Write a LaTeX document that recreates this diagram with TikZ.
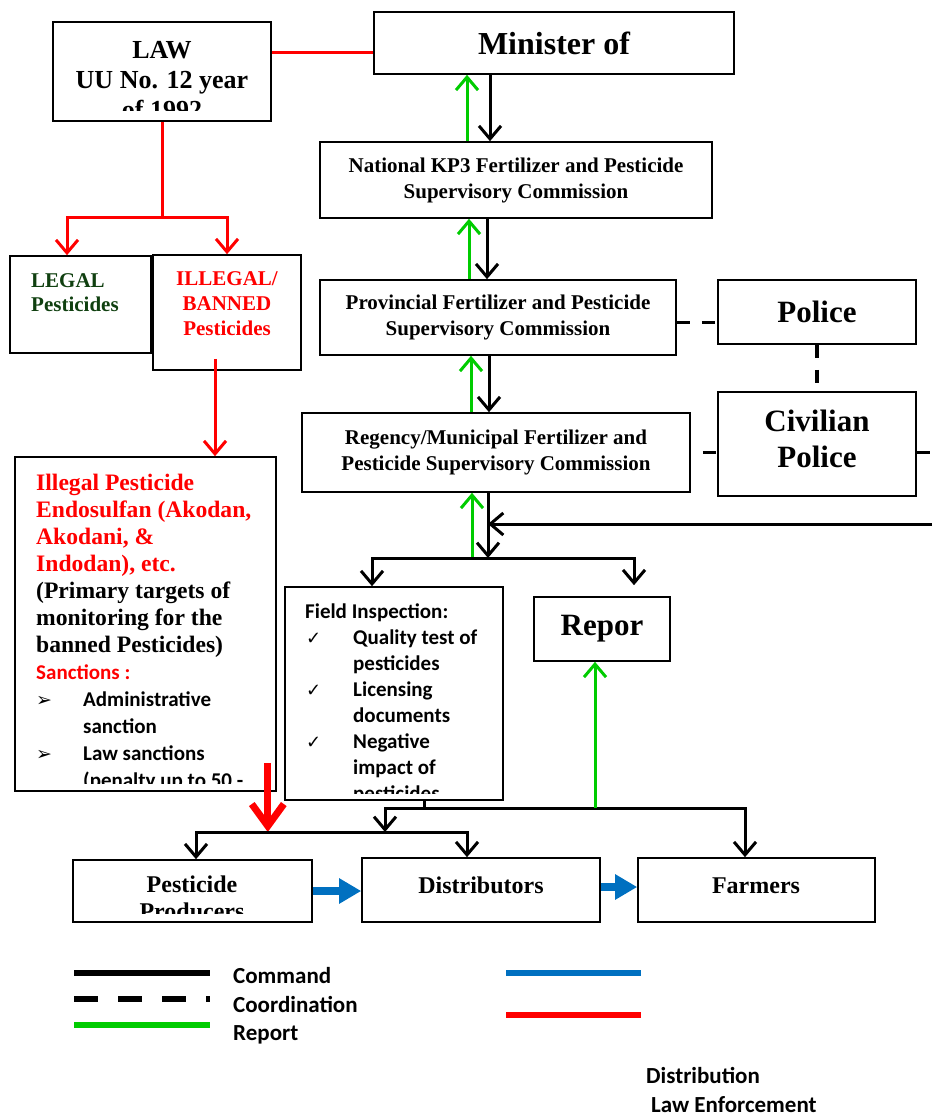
\documentclass[tikz,border=0pt]{standalone}
\usepackage{fontspec}
\setmainfont{Liberation Serif}
\newfontfamily\calib{Carlito}
\newfontfamily\symfont{DejaVu Sans}
\usetikzlibrary{arrows.meta}
\definecolor{lawred}{RGB}{255,0,0}
\definecolor{repgreen}{RGB}{0,204,0}
\definecolor{distblue}{RGB}{0,112,192}
\definecolor{legalgreen}{RGB}{16,64,16}

\begin{document}
\begin{tikzpicture}[x=1pt, y=-1pt,
    box/.style={draw, line width=1.6pt, inner sep=0pt, align=center, font=\bfseries},
    cmd/.style={line width=3pt, -{Straight Barb[length=13pt,width=22pt]}},
    rep/.style={draw=repgreen, line width=3pt, -{Straight Barb[length=13pt,width=22pt]}},
    coordline/.style={line width=3.5pt, dash pattern=on 13pt off 12pt},
    lawline/.style={draw=lawred, line width=3pt},
    lawarrow/.style={lawline, -{Straight Barb[length=13pt,width=22pt]}},
    bigred/.style={draw=lawred, line width=7pt, -{Straight Barb[length=22pt,width=32pt]}},
    distarrow/.style={draw=distblue, line width=8pt, -{Triangle[length=22pt,width=24pt]}},
    keyline/.style={line width=6pt},
    keytext/.style={anchor=base west, inner sep=0pt, font=\calib\bfseries\fontsize{23}{26}\selectfont}
]
\useasboundingbox (0,0) rectangle (932,1118);

% law and ministry
\node[box, minimum width=218pt, minimum height=99pt] (law) at (162,71.5) {};
\begin{scope}
  \clip (55,24) rectangle (269,111);
  \node[anchor=north, inner sep=0pt, align=center, font=\bfseries\fontsize{26}{30}\selectfont] (lawtext) at (162,41) {LAW\\UU No. 12 year\\of 1992};
\end{scope}
\node[box, minimum width=360pt, minimum height=62pt, font=\bfseries\fontsize{32}{36}\selectfont] (minister) at (554,43) {Minister of};

% commissions
\node[box, minimum width=392pt, minimum height=76pt, font=\bfseries\fontsize{21}{26}\selectfont] (national) at (516,180) {National KP3 Fertilizer and Pesticide\\Supervisory Commission};
\node[box, minimum width=356pt, minimum height=75pt, font=\bfseries\fontsize{21}{26}\selectfont] (provincial) at (498,317.5) {Provincial Fertilizer and Pesticide\\Supervisory Commission};
\node[box, minimum width=388pt, minimum height=79pt, font=\bfseries\fontsize{21}{26}\selectfont] (regency) at (496,452.5) {Regency/Municipal Fertilizer and\\Pesticide Supervisory Commission};

% police
\node[box, minimum width=198pt, minimum height=64pt, font=\bfseries\fontsize{31}{36}\selectfont] (police) at (817,312) {Police};
\node[box, minimum width=198pt, minimum height=104pt] (civilian) at (817,444) {};
\node[anchor=north, inner sep=0pt, align=center, font=\bfseries\fontsize{31}{36}\selectfont] (civtext) at (817,410) {Civilian\\Police};

% pesticides
\node[box, minimum width=141pt, minimum height=97pt] (legal) at (80.5,304.5) {};
\node[anchor=north west, inner sep=0pt, align=left, text=legalgreen, font=\bfseries\fontsize{21}{24}\selectfont] (legaltext) at (31,273) {LEGAL\\Pesticides};
\node[box, minimum width=148pt, minimum height=115pt] (illegal) at (227,312.5) {};
\node[anchor=north, inner sep=0pt, align=center, text=lawred, font=\bfseries\fontsize{21}{25}\selectfont] (illegaltext) at (227,271) {ILLEGAL/\\BANNED\\Pesticides};

\node[box, minimum width=261pt, minimum height=334pt] (illpest) at (145.5,624) {};
\begin{scope}
  \clip (17,459) rectangle (274,783);
  \node[anchor=north west, inner sep=0pt, align=left, font=\bfseries\fontsize{23.6}{27}\selectfont] (illtext) at (36,474) {\textcolor{lawred}{Illegal Pesticide}\\
    \textcolor{lawred}{Endosulfan (Akodan,}\\
    \textcolor{lawred}{Akodani, \&}\\
    \textcolor{lawred}{Indodan), etc.}\\
    (Primary targets of\\
    monitoring for the\\
    banned Pesticides)\\
    {\calib\fontsize{21}{27}\selectfont\color{lawred}Sanctions :}\\
    {\calib\fontsize{21}{27}\selectfont\makebox[47pt][l]{\symfont\fontsize{19}{27}\selectfont ➢}Administrative}\\
    {\calib\fontsize{21}{27}\selectfont\hspace*{47pt}sanction}\\
    {\calib\fontsize{21}{27}\selectfont\makebox[47pt][l]{\symfont\fontsize{19}{27}\selectfont ➢}Law sanctions}\\
    {\calib\fontsize{21}{27}\selectfont\hspace*{47pt}(penalty up to 50 -}};
\end{scope}

% field level
\node[box, minimum width=218pt, minimum height=213pt] (field) at (394,693.5) {};
\begin{scope}
  \clip (287,589) rectangle (501,793);
  \node[anchor=north west, inner sep=0pt, align=left, font=\calib\bfseries\fontsize{21}{26}\selectfont] (fieldtext) at (305,604) {Field Inspection:\\
    \makebox[48pt][l]{\hspace*{1pt}\symfont\fontsize{18}{26}\selectfont ✓}Quality test of\\
    \hspace*{48pt}pesticides\\
    \makebox[48pt][l]{\hspace*{1pt}\symfont\fontsize{18}{26}\selectfont ✓}Licensing\\
    \hspace*{48pt}documents\\
    \makebox[48pt][l]{\hspace*{1pt}\symfont\fontsize{18}{26}\selectfont ✓}Negative\\
    \hspace*{48pt}impact of\\
    \hspace*{48pt}pesticides};
\end{scope}
\node[box, minimum width=136pt, minimum height=64pt, font=\bfseries\fontsize{31}{36}\selectfont] (report) at (602,629) {Repor};

% supply chain
\node[box, minimum width=239pt, minimum height=62pt] (producers) at (192.5,891) {};
\begin{scope}
  \clip (75,862) rectangle (310,913);
  \node[anchor=north, inner sep=0pt, align=center, font=\bfseries\fontsize{24}{27}\selectfont] (prodtext) at (192,876) {Pesticide\\Producers};
\end{scope}
\node[box, minimum width=238pt, minimum height=64pt] (distributors) at (481,890) {};
\node[anchor=base, inner sep=0pt, font=\bfseries\fontsize{24}{27}\selectfont] (disttext) at (481,893) {Distributors};
\node[box, minimum width=237pt, minimum height=64pt] (farmers) at (756.5,890) {};
\node[anchor=base, inner sep=0pt, font=\bfseries\fontsize{24}{27}\selectfont] (farmtext) at (756,893) {Farmers};

\coordinate (lawsplit) at (162,217);
\coordinate (split1) at (488,558);
\coordinate (edgeR) at (932,524);
\coordinate (edgeC) at (932,452.5);
\coordinate (split2) at (424,808);
\coordinate (split3) at (385,832);

% law enforcement
\draw[lawline] ([yshift=18.5pt]law.east) -- ([yshift=18.5pt]law.east -| minister.west);
\draw[lawline] (law.south) -- (lawsplit);
\draw[lawarrow] (lawsplit) -| ([xshift=-13.5pt]legal.north);
\draw[lawarrow] (lawsplit) -| (illegal.north);
\draw[lawarrow] ([xshift=-12pt,yshift=12pt]illegal.south) -- ([xshift=-12pt]illegal.south |- illpest.north);
\draw[bigred] ([xshift=-9pt,yshift=29pt]illpest.south east) -- ([xshift=-9pt]illpest.south east |- split3);

% command and report
\draw[cmd] ([xshift=-64pt]minister.south) -- ([xshift=-64pt]minister.south |- national.north);
\draw[rep] ([xshift=-87pt]minister.south |- national.north) -- ([xshift=-87pt]minister.south);
\draw[cmd] ([xshift=-29pt]national.south) -- ([xshift=-29pt]national.south |- provincial.north);
\draw[rep] ([xshift=-47pt]national.south |- provincial.north) -- ([xshift=-47pt]national.south);
\draw[cmd] ([xshift=-9pt]provincial.south) -- ([xshift=-9pt]provincial.south |- regency.north);
\draw[rep] ([xshift=-27pt]provincial.south |- regency.north) -- ([xshift=-27pt]provincial.south);
\draw[cmd] ([xshift=-8pt]regency.south) -- (split1);
\draw[rep] ([xshift=-24pt]regency.south |- split1) -- ([xshift=-24pt]regency.south);
\draw[cmd] (edgeR) -- (edgeR -| split1);
\draw[cmd] (split1) -| ([xshift=-22pt]field.north);
\draw[cmd] (split1) -| ([xshift=32pt,yshift=11pt]report.north);

\draw[line width=3pt] ([xshift=30pt]field.south) -- (split2);
\draw[cmd] (split2) -| (split3);
\draw[cmd] (split2) -| ([xshift=-11.5pt]farmers.north);
\draw[cmd] (split3) -| ([xshift=3.5pt]producers.north);
\draw[cmd] (split3) -| ([xshift=-14pt]distributors.north);
\draw[rep] ([xshift=-7pt]report.south |- split2) -- ([xshift=-7pt]report.south);

% coordination
\draw[coordline] ([yshift=-5pt]provincial.east) -- ([yshift=-5pt]provincial.east -| police.west);
\draw[coordline] (police.south) -- (civilian.north);
\draw[coordline, dash phase=13pt] (regency.east) -- (regency.east -| civilian.west);
\draw[coordline] (civilian.east |- edgeC) -- (edgeC);

% distribution
\draw[distarrow] (producers.east) -- (producers.east -| distributors.west);
\draw[distarrow] ([yshift=3pt]distributors.east) -- ([yshift=3pt]distributors.east -| farmers.west);

% legend
\draw[keyline] (74,973) -- (210,973);
\draw[keyline, dash pattern=on 24pt off 20pt] (74,999) -- (210,999);
\draw[keyline, draw=repgreen] (74,1025) -- (210,1025);
\draw[keyline, draw=distblue] (506,973) -- (641,973);
\draw[keyline, draw=lawred] (506,1015) -- (641,1015);
\node[keytext] (kcmd) at (233,983) {Command};
\node[keytext] (kcoord) at (233,1012) {Coordination};
\node[keytext] (krep) at (233,1040) {Report};
\node[keytext] (kdist) at (646,1083) {Distribution};
\node[keytext] (klaw) at (651,1112) {Law Enforcement};

\end{tikzpicture}
\end{document}
